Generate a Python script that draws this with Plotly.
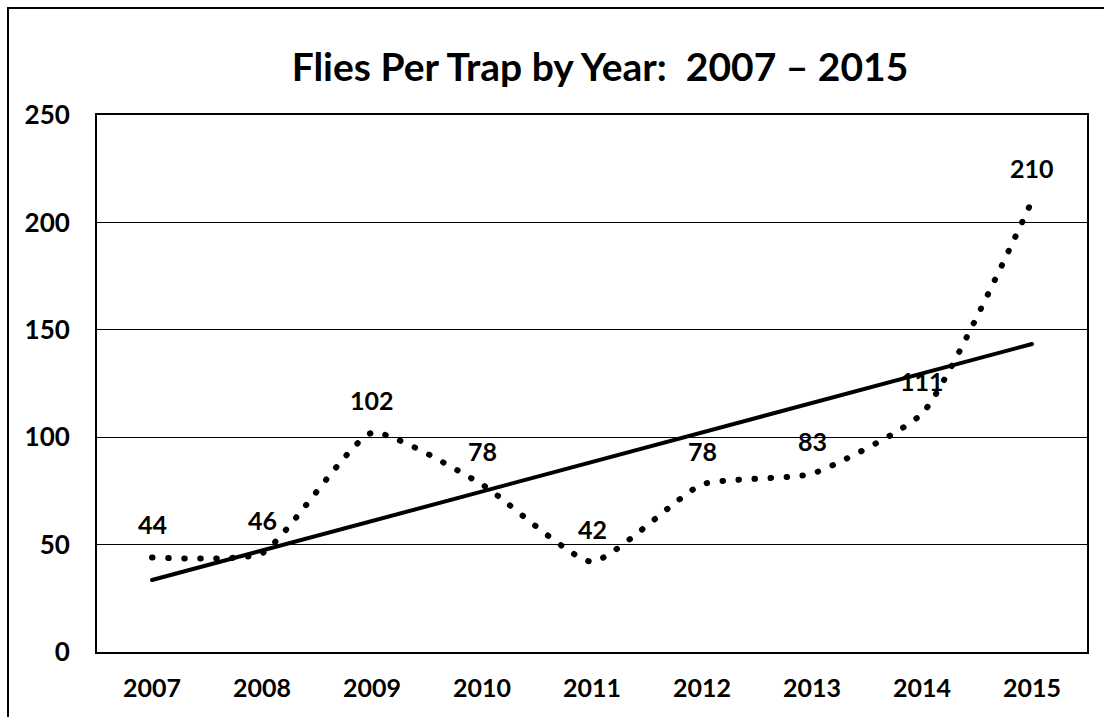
import plotly.graph_objects as go

years = ["2007", "2008", "2009", "2010", "2011", "2012", "2013", "2014", "2015"]
flies = [44, 46, 102, 78, 42, 78, 83, 111, 210]
trend_years = ["2007", "2015"]
trend_values = [33.5, 143.4]
y_ticks = [0, 50, 100, 150, 200, 250]

FONT = "Lato"

fig = go.Figure()
fig.add_trace(go.Scatter(
    x=years, y=flies, mode="lines",
    line=dict(color="black", width=6, shape="spline", smoothing=0.5, dash="0.5px,15.5px"),
    showlegend=False, hoverinfo="skip",
))
fig.add_trace(go.Scatter(
    x=trend_years, y=trend_values, mode="lines",
    line=dict(color="black", width=4),
    showlegend=False, hoverinfo="skip",
))

for i, v in enumerate(flies):
    fig.add_annotation(x=i, y=v, xref="x", yref="y", text=str(v), showarrow=False, yshift=33,
                       font=dict(family=FONT, size=25, color="black", weight="bold"))

fig.update_layout(
    width=1104, height=717,
    margin=dict(l=97, r=17, t=115, b=65, autoexpand=False),
    paper_bgcolor="white", plot_bgcolor="white",
    title=dict(text="Flies Per Trap by Year:  2007 – 2015", x=600/1104, xanchor="center",
               xref="container", yref="container", y=1-67/717, yanchor="middle",
               font=dict(family=FONT, size=39, color="black", weight="bold")),
    xaxis=dict(type="category", categoryorder="array", categoryarray=years,
               range=[-0.5, len(years) - 0.5], autorange=False,
               showline=True, linecolor="black", linewidth=2, mirror=True,
               showgrid=False, ticks="", ticklabelstandoff=13, automargin=False,
               tickfont=dict(family=FONT, size=25, color="black", weight="bold")),
    yaxis=dict(range=[0, 250], autorange=False, tickvals=y_ticks, showline=True, linecolor="black",
               linewidth=2, mirror=True, showgrid=True, gridcolor="black", gridwidth=1,
               zeroline=False, ticks="", ticklabelstandoff=20, automargin=False,
               tickfont=dict(family=FONT, size=26, color="black", weight="bold")),
    shapes=[
        dict(type="rect", xref="paper", yref="paper", x0=-0.0899, x1=1.3, y0=-0.3, y1=1.1993,
             line=dict(color="black", width=2), fillcolor="rgba(0,0,0,0)", layer="below"),
    ],
)

post = """
var s=document.createElement('style');
s.innerHTML='html,body{margin:0;padding:0;overflow:hidden;} .scatterlayer .js-line{stroke-linecap:round !important;}';
document.head.appendChild(s);
"""
fig.write_html("out.html", post_script=post, config={"displayModeBar": False})
